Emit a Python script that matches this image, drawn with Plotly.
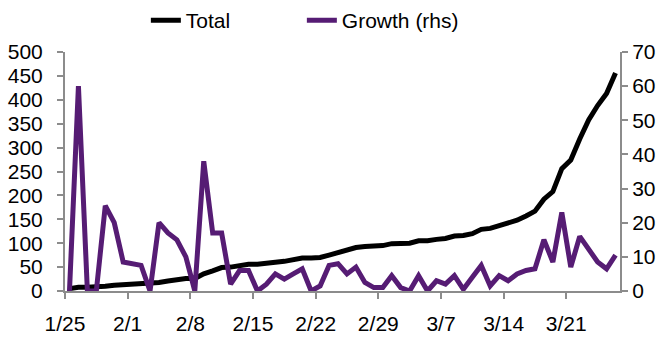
import pandas as pd
import plotly.graph_objects as go

# Daily dates, 25 Jan to 26 Mar 2020
dates = pd.date_range("2020-01-25", "2020-03-26", freq="D").strftime("%Y-%m-%d").tolist()

# Cumulative total (left axis)
total = [5, 8, 8, 8, 10, 12, 13, 14, 15, 15,
         18, 21, 24, 26, 26, 36, 42, 49, 50, 53,
         56, 56, 57, 60, 62, 65, 69, 69, 70, 75,
         81, 85, 91, 93, 94, 95, 99, 100, 100, 105,
         105, 108, 110, 115, 116, 120, 129, 131, 137, 141,
         148, 157, 167, 192, 208, 256, 274, 318, 358, 388,
         413, 456]

# Daily growth in % (right axis)
growth = [0, 60, 0, 0, 25, 20, 8.5, 8, 7.5, 0,
          20, 17, 15, 10, 0, 38, 17, 17, 2, 6,
          6, 0, 2, 5, 3.5, 5, 6.5, 0, 1.5, 7.5,
          8, 5, 7, 2.5, 1, 1, 4.5, 1, 0, 4.5,
          0, 3, 2, 4.5, 0.5, 4, 7.5, 1.5, 4.5, 3,
          5, 6, 6.5, 15, 8.5, 23, 7, 16, 12.5, 8.5,
          6.5, 10.5]

left_ticks = list(range(0, 501, 50))
right_ticks = list(range(0, 71, 10))

# each daily point sits in the middle of its day slot
x = pd.to_datetime(dates) + pd.Timedelta(hours=12)

BLACK = "#000000"
PURPLE = "#561C74"
AXIS = "#8C8C8C"
FONT = "Liberation Sans, Arial, sans-serif"

fig = go.Figure()
fig.add_trace(go.Scatter(x=x, y=total, name="Total", mode="lines",
                         line=dict(color=BLACK, width=5)))
fig.add_trace(go.Scatter(x=x, y=growth, name="Growth (rhs)", mode="lines",
                         line=dict(color=PURPLE, width=5), yaxis="y2"))

axis_style = dict(showgrid=False, zeroline=False, showline=True, linecolor=AXIS,
                  linewidth=2, ticks="outside", ticklen=6, tickcolor=AXIS,
                  tickwidth=2, automargin=False)

fig.update_layout(
    width=663, height=352,
    margin=dict(l=65, r=43, t=52, b=61),
    paper_bgcolor="white", plot_bgcolor="white",
    font=dict(family=FONT, size=21, color="black"),
    showlegend=True,
    legend=dict(orientation="h", xref="container", x=0.220, xanchor="left",
                y=1.0, yanchor="top", yref="container",
                font=dict(size=21), entrywidth=111, entrywidthmode="pixels",
                traceorder="normal", itemclick=False, itemdoubleclick=False),
    xaxis=dict(type="date", range=["2020-01-25", "2020-03-27"],
               tick0="2020-01-25", dtick=7 * 24 * 3600 * 1000, tickformat="%-m/%-d",
               ticklabelstandoff=7, **axis_style),
    yaxis=dict(range=[0, 500], tickvals=left_ticks, ticklabelstandoff=10, **axis_style),
    yaxis2=dict(range=[0, 70], tickvals=right_ticks, overlaying="y", side="right",
                **axis_style),
)

fig.write_html("out.html")
